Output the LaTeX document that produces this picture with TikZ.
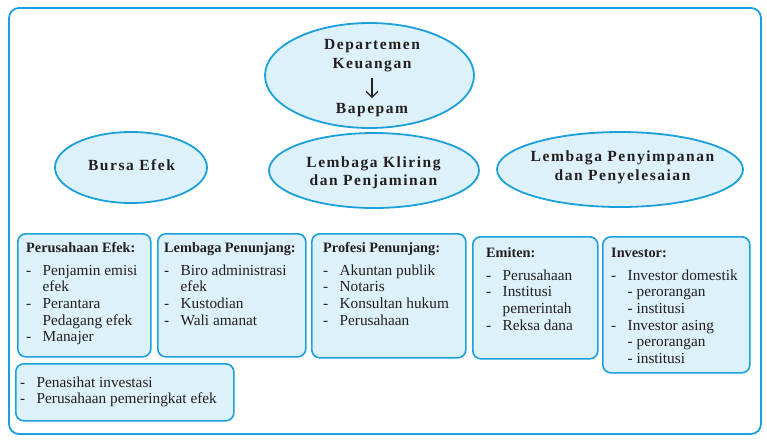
\documentclass[tikz,border=0pt]{standalone}
\usepackage{fontspec}
\setmainfont{Liberation Serif}
\newfontfamily\ellfont[LetterSpace=10]{Liberation Serif}
\usetikzlibrary{shapes.geometric,arrows.meta,calc}
\definecolor{bordblue}{RGB}{28,160,220}
\definecolor{fillblue}{RGB}{221,241,251}
\definecolor{ink}{RGB}{35,31,32}
\newcommand\li[1]{\par\hangindent=16.5pt\hangafter=1\noindent\makebox[16.5pt][l]{-}#1}
\newcommand\ttl[1]{{\bfseries\fontsize{14.3}{16.7}\selectfont #1}\par\vspace{6.3pt}}
\tikzset{
  ell/.style={ellipse, draw=bordblue, fill=fillblue, line width=1.8pt, inner sep=0pt},
  ltxt/.style={anchor=base, inner sep=0pt, text=ink, font=\ellfont\bfseries\fontsize{15.5}{18.5}\selectfont},
  box/.style={draw=bordblue, fill=fillblue, line width=1.6pt, rounded corners=8pt, anchor=north west, inner sep=0pt},
  btxt/.style={anchor=base west, inner sep=0pt, text=ink, font=\fontsize{15.3}{16.7}\selectfont},
  frame/.style={draw=bordblue, line width=1.8pt, rounded corners=10pt}
}
\begin{document}
\begin{tikzpicture}[x=1pt,y=-1pt]
\useasboundingbox (0,0) rectangle (767,440);
\draw[frame] (9,8) rectangle (761,434);

% ellipses
\node[ell, minimum width=209pt, minimum height=105pt] (dk) at (369.5,75.5) {};
\node[ltxt] (dkt) at (372,49) {\parbox[t]{200pt}{\centering\baselineskip=19pt Departemen\\Keuangan}};
\node[ltxt] (bap) at (372,113) {\parbox[t]{200pt}{\centering Bapepam}};
\draw[-{Straight Barb[length=6pt,width=12pt]}, line width=1.2pt, ink, shorten <=6pt, shorten >=4.5pt] (dkt.south) -- (bap.north);

\node[ell, minimum width=152pt, minimum height=71pt] (be) at (131,167.5) {};
\node[ltxt] (bet) at (131.5,170) {\parbox[t]{140pt}{\centering Bursa Efek}};

\node[ell, minimum width=210pt, minimum height=75pt] (lk) at (374,170.5) {};
\node[ltxt] (lkt) at (373.5,167) {\parbox[t]{200pt}{\centering\baselineskip=18pt Lembaga Kliring\\dan Penjaminan}};

\node[ell, minimum width=246pt, minimum height=75pt] (lps) at (620,169.5) {};
\node[ltxt] (lpst) at (622.5,161.5) {\parbox[t]{240pt}{\centering\baselineskip=18.5pt Lembaga Penyimpanan\\dan Penyelesaian}};

% boxes
\node[box, minimum width=133pt, minimum height=123pt] (pe) at (17,233) {};
\node[btxt] (pet) at (26,252) {\parbox[t]{130pt}{\ttl{Perusahaan Efek:}\li{Penjamin emisi\\efek}\li{Perantara\\Pedagang efek}\li{Manajer}\par}};

\node[box, minimum width=148pt, minimum height=123pt] (lp) at (157,233) {};
\node[btxt] (lpt) at (164,252) {\parbox[t]{145pt}{\ttl{Lembaga Penunjang:}\li{Biro administrasi\\efek}\li{Kustodian}\li{Wali amanat}\par}};

\node[box, minimum width=154pt, minimum height=124pt] (pp) at (311,233) {};
\node[btxt] (ppt) at (323,252) {\parbox[t]{145pt}{\ttl{Profesi Penunjang:}\li{Akuntan publik}\li{Notaris}\li{Konsultan hukum}\li{Perusahaan}\par}};

\node[box, minimum width=125pt, minimum height=122pt] (em) at (472,236) {};
\node[btxt] (emt) at (486,257) {\parbox[t]{120pt}{\ttl{Emiten:}\li{Perusahaan}\li{Institusi\\pemerintah}\li{Reksa dana}\par}};

\node[box, minimum width=147pt, minimum height=136pt] (inv) at (602,236) {};
\node[btxt] (invt) at (611,257) {\parbox[t]{140pt}{\ttl{Investor:}\li{Investor domestik\\- perorangan\\- institusi}\li{Investor asing\\- perorangan\\- institusi}\par}};

\node[box, minimum width=218pt, minimum height=57pt] (pen) at (15,363) {};
\node[btxt] (pent) at (20,387) {\parbox[t]{210pt}{\li{Penasihat investasi}\li{Perusahaan pemeringkat efek}\par}};
\end{tikzpicture}
\end{document}
